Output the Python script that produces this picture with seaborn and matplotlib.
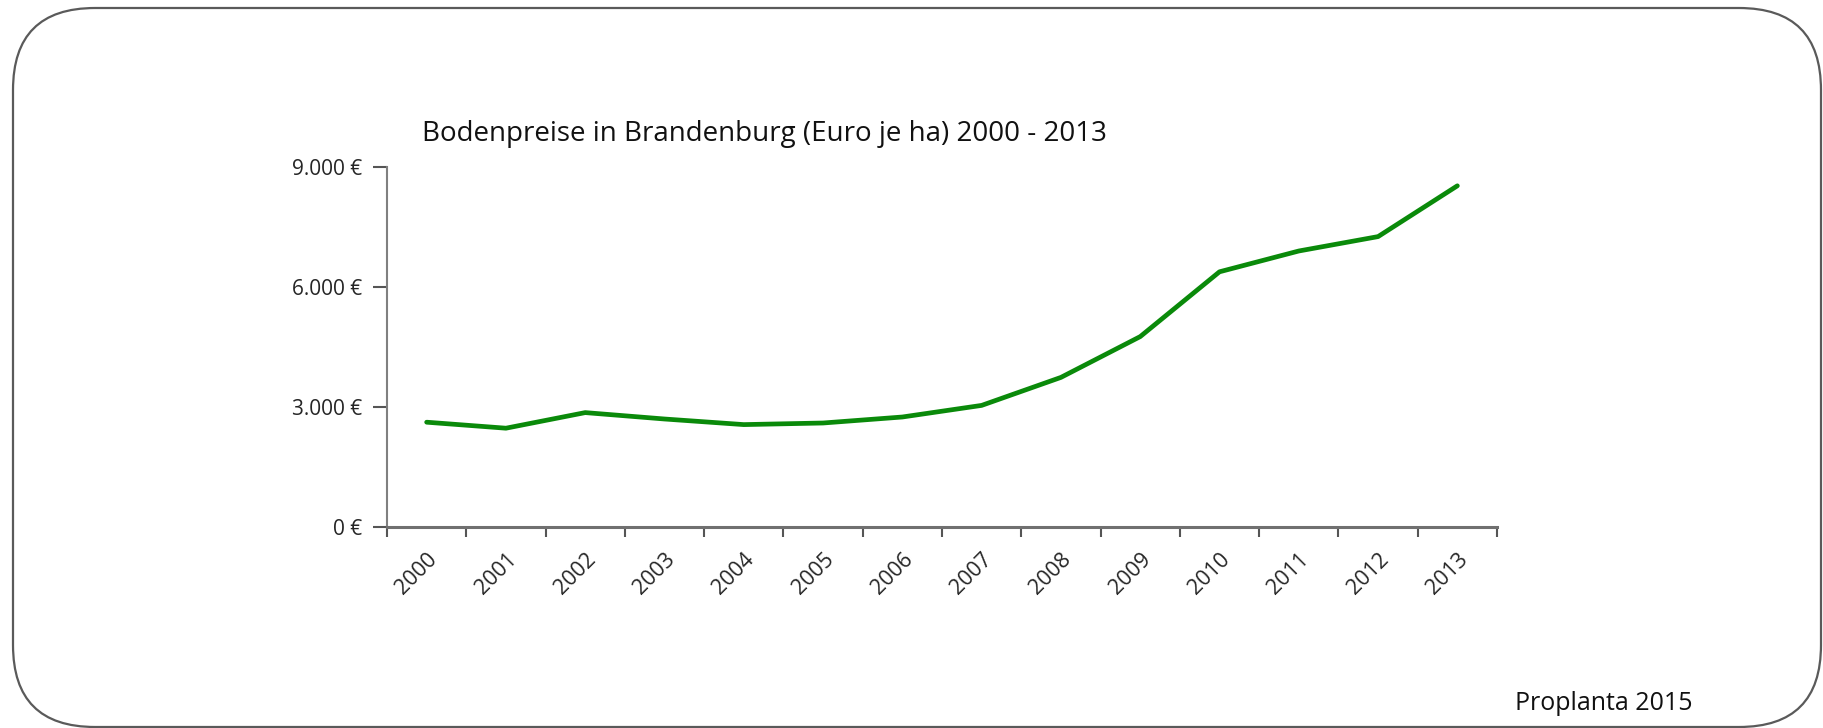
import matplotlib
matplotlib.use("Agg")
import matplotlib.pyplot as plt
import matplotlib.ticker as mticker
from matplotlib.patches import FancyBboxPatch
from matplotlib.transforms import IdentityTransform
import numpy as np
import seaborn as sns

# Bodenpreise Brandenburg, Euro je ha
years = ["2000", "2001", "2002", "2003", "2004", "2005", "2006",
         "2007", "2008", "2009", "2010", "2011", "2012", "2013"]
prices = [2620, 2470, 2860, 2700, 2560, 2600, 2750,
          3040, 3740, 4760, 6380, 6900, 7260, 8530]
y_ticks = [0, 3000, 6000, 9000]

sns.set_style("white")
plt.rcParams["font.family"] = ["Open Sans", "DejaVu Sans"]

fig = plt.figure(figsize=(18.23, 7.28), dpi=100)
ax = fig.add_axes([387 / 1823, 1 - 527 / 728, (1497 - 387) / 1823, (527 - 167) / 728])

pos = np.arange(len(years))
sns.lineplot(x=pos, y=prices, ax=ax, color="#0a8a0a", linewidth=3.4)

ax.set_xlim(-0.5, len(years) - 0.5)
ax.set_ylim(0, 9000)

# labels at category centres, tick marks at category boundaries
ax.set_xticks(pos)
ax.set_xticklabels(years, rotation=45, ha="right", rotation_mode="anchor", fontsize=15.5)
ax.xaxis.set_minor_locator(mticker.FixedLocator(np.arange(-0.5, len(years), 1.0)))
ax.tick_params(axis="x", which="major", bottom=True, length=0, pad=16)
ax.tick_params(axis="x", which="minor", bottom=True, length=7, width=1.5,
               color="#555555", direction="out")

ax.set_yticks(y_ticks)
ax.yaxis.set_major_formatter(mticker.FuncFormatter(
    lambda v, p: f"{int(v):,} €".replace(",", ".")))
ax.tick_params(axis="y", left=True, length=10, width=1.5, color="#555555",
               direction="out", labelsize=15, pad=8)

for s in ["top", "right"]:
    ax.spines[s].set_visible(False)
ax.spines["left"].set_color("#808080")
ax.spines["left"].set_linewidth(1.5)
ax.spines["bottom"].set_color("#707070")
ax.spines["bottom"].set_linewidth(2.2)
ax.set_xlabel("")
ax.set_ylabel("")

fig.text(422 / 1823, 1 - 134 / 728, "Bodenpreise in Brandenburg (Euro je ha) 2000 - 2013",
         fontsize=20, va="center", ha="left", color="#111111")
fig.text(1515 / 1823, 1 - 704 / 728, "Proplanta 2015",
         fontsize=18, va="center", ha="left", color="#111111")

# rounded frame around the whole chart (pixel coords)
frame = FancyBboxPatch((13, 1), 1808, 719,
                       boxstyle="round,pad=0,rounding_size=82",
                       transform=IdentityTransform(), fill=False,
                       edgecolor="#5a5a5a", linewidth=1.6)
fig.patches.append(frame)

fig.savefig("out.png", dpi=100)
